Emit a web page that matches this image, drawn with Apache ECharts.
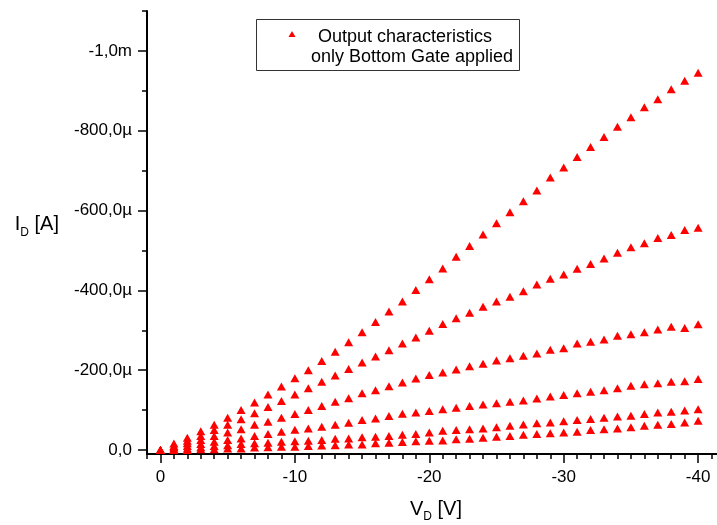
<!DOCTYPE html>
<html>
<head>
<meta charset="utf-8">
<title>Output characteristics</title>
<script src="https://cdn.jsdelivr.net/npm/echarts@6/dist/echarts.min.js"></script>
<style>
  html, body { margin: 0; padding: 0; background: #fff; }
  #chart { width: 717px; height: 525px; }
</style>
</head>
<body>
<div id="chart"></div>
<script>
// drain voltage V_D [V]
const vd = [0, -1, -2, -3, -4, -5, -6, -7, -8, -9, -10, -11, -12, -13, -14, -15, -16, -17, -18, -19, -20,
  -21, -22, -23, -24, -25, -26, -27, -28, -29, -30, -31, -32, -33, -34, -35, -36, -37, -38, -39, -40];

// drain current I_D in µA, one list per gate voltage
const id1 = [0, -16, -31, -47, -63, -81, -100, -119, -139, -159, -180, -200, -223, -246, -270, -295, -321, -347, -372, -401, -428,
  -455, -484, -511, -540, -568, -596, -623, -650, -683, -708, -734, -759, -784, -810, -834, -859, -879, -904, -925, -945];
const id2 = [0, -10, -23, -35, -50, -63, -77, -92, -108, -123, -139, -155, -171, -187, -203, -219, -234, -250, -267, -282, -299,
  -316, -330, -344, -359, -372, -384, -398, -415, -429, -440, -454, -466, -480, -494, -508, -518, -531, -539, -551, -557];
const id3 = [0, -7, -17, -25, -35, -44, -52, -63, -71, -81, -90, -100, -110, -121, -130, -142, -150, -160, -169, -179, -188,
  -194, -202, -210, -216, -224, -230, -236, -242, -251, -255, -267, -271, -277, -286, -290, -295, -302, -309, -306, -315];
const id4 = [0, -3, -10, -15, -21, -25, -29, -35, -40, -46, -51, -54, -58, -63, -68, -75, -79, -85, -91, -94, -98,
  -102, -106, -110, -114, -117, -121, -124, -129, -134, -138, -142, -146, -150, -155, -161, -165, -167, -171, -172, -178];
const id5 = [0, 0, -4, -7, -10, -12, -15, -17, -18, -21, -22, -23, -25, -28, -29, -32, -33, -35, -38, -40, -44,
  -48, -50, -52, -54, -57, -61, -64, -67, -69, -72, -75, -78, -81, -84, -86, -90, -94, -96, -99, -102];
const id6 = [0, 0, 0, -2, -2, -4, -4, -6, -7, -8, -8, -10, -11, -12, -14, -14, -17, -18, -20, -22, -23,
  -24, -27, -28, -31, -33, -35, -38, -40, -42, -44, -46, -50, -52, -54, -57, -61, -63, -65, -69, -73];

// tick positions
const xMajor = [0, -10, -20, -30, -40];
const xMinor = [1, -1, -2, -3, -4, -5, -6, -7, -8, -9, -11, -12, -13, -14, -15, -16, -17, -18, -19,
  -21, -22, -23, -24, -25, -26, -27, -28, -29, -31, -32, -33, -34, -35, -36, -37, -38, -39, -41];
const yMajor = [0, -200, -400, -600, -800, -1000];
const yMinor = [-100, -300, -500, -700, -900, -1100];

const font = '"Liberation Sans", Arial, sans-serif';

var data = [];
[id1, id2, id3, id4, id5, id6].forEach(function (curve) {
  curve.forEach(function (v, i) {
    data.push([vd[i], v]);
  });
});

// µA -> Origin style label
function fmtCurrent(v) {
  if (v === 0) return '0,0';
  if (Math.abs(v) >= 1000) return (v / 1000).toFixed(1).replace('.', ',') + 'm';
  return v.toFixed(1).replace('.', ',') + 'µ';
}

// subscript: no lineHeight on s so the top padding pushes it down
var nameRich = {
  m: { fontSize: 20, lineHeight: 20, verticalAlign: 'top', color: '#000', fontFamily: font },
  s: { fontSize: 12, padding: [12, 0, 0, 0], verticalAlign: 'bottom', color: '#000', fontFamily: font }
};
var tickLine = { color: '#000', width: 1.5 };

var chartDom = document.getElementById('chart');
var myChart = echarts.init(chartDom);
var option;

option = {
  animation: false,
  backgroundColor: '#fff',
  grid: { left: 147, top: 11, right: -8, bottom: 71, outerBoundsMode: 'none' },
  xAxis: [
    {
      type: 'value', position: 'bottom', min: -42, max: 1, inverse: true,
      name: '{m|V}{s|D}{m| [V]}', nameLocation: 'middle', nameGap: 45,
      nameTextStyle: { rich: nameRich },
      axisLine: { onZero: false, lineStyle: { color: '#000', width: 2 } },
      axisTick: { customValues: xMajor, length: 9, lineStyle: tickLine },
      axisLabel: { customValues: xMajor, margin: 15, color: '#000', fontSize: 17, fontFamily: font },
      splitLine: { show: false }
    },
    {
      type: 'value', position: 'bottom', min: -42, max: 1, inverse: true,
      axisLine: { show: false, onZero: false },
      axisTick: { customValues: xMinor, length: 5, lineStyle: tickLine },
      axisLabel: { show: false },
      splitLine: { show: false }
    }
  ],
  yAxis: [
    {
      type: 'value', position: 'left', min: -1100, max: 10, inverse: true,
      name: '{m|I}{s|D}{m| [A]}', nameLocation: 'middle', nameRotate: 0, nameGap: 88,
      nameTextStyle: { rich: nameRich, padding: [0, 0, 12, 0] },
      axisLine: { onZero: false, lineStyle: { color: '#000', width: 2 } },
      axisTick: { customValues: yMajor, length: 9, lineStyle: tickLine },
      axisLabel: { customValues: yMajor, margin: 15, color: '#000', fontSize: 17, fontFamily: font, formatter: fmtCurrent },
      splitLine: { show: false }
    },
    {
      type: 'value', position: 'left', min: -1100, max: 10, inverse: true,
      axisLine: { show: false, onZero: false },
      axisTick: { customValues: yMinor, length: 5, lineStyle: tickLine },
      axisLabel: { show: false },
      splitLine: { show: false }
    }
  ],
  // legend box drawn by hand, Origin puts the second line under the first
  graphic: [
    { type: 'rect', shape: { x: 256.5, y: 19.5, width: 263, height: 51 }, style: { fill: '#fff', stroke: '#333', lineWidth: 1 } },
    { type: 'polygon', shape: { points: [[288.5, 37], [295.5, 37], [292, 31]] }, style: { fill: '#ff0000' } },
    { type: 'text', x: 318, y: 37, style: { text: 'Output characteristics', font: '18px ' + font, fill: '#000', verticalAlign: 'middle' } },
    { type: 'text', x: 311, y: 57, style: { text: 'only Bottom Gate applied', font: '18px ' + font, fill: '#000', verticalAlign: 'middle' } }
  ],
  series: [
    {
      name: 'Output characteristics',
      type: 'scatter',
      xAxisIndex: 0,
      yAxisIndex: 0,
      symbol: 'triangle',
      symbolSize: [9, 8],
      itemStyle: { color: '#ff0000', opacity: 1 },
      data: data
    }
  ]
};

option && myChart.setOption(option);
</script>
</body>
</html>
